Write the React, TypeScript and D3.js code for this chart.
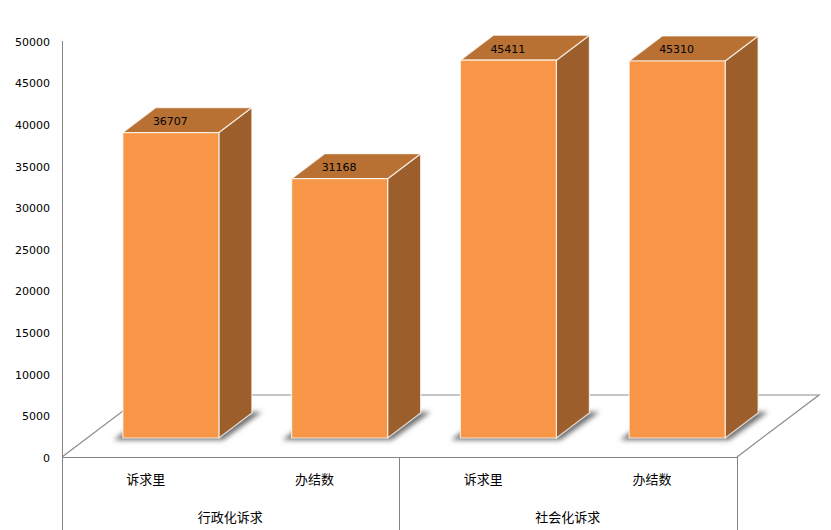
import * as d3 from 'd3';

const categories = ['诉求里', '办结数', '诉求里', '办结数'];
const values = [36707, 31168, 45411, 45310];
const groups = ['行政化诉求', '社会化诉求'];
const yTicks = [0, 5000, 10000, 15000, 20000, 25000, 30000, 35000, 40000, 45000, 50000];

const CJK = '"Noto Sans CJK SC", sans-serif';
const LATIN = '"DejaVu Sans", sans-serif';

const left = 62;
const right = 737;
const floorY = 457;
const topY = 41;
const bottomY = 530;
// floor depth, and where the bars stand on it
const depth = { x: 82, y: -62 };
const barShift = { x: 24.5, y: -19 };
const barDepth = { x: 33, y: -25 };

const yScale = d3.scaleLinear().domain([0, 50000]).range([floorY, topY]);
const labelScale = d3.scaleBand<number>().domain(d3.range(values.length)).range([left, right]);
const groupScale = d3.scaleBand<number>().domain(d3.range(groups.length)).range([left, right]);
const barScale = d3
  .scaleBand<number>()
  .domain(d3.range(values.length))
  .range([left + barShift.x, right + barShift.x])
  .paddingInner(0.431)
  .paddingOuter(0.2155);

const poly = (pts: [number, number][]) => d3.line()(pts) + 'Z';

export default function App() {
  const baseY = floorY + barShift.y;
  const barW = barScale.bandwidth();
  return (
    <svg
      width={831}
      height={530}
      style={{ position: 'absolute', left: 0, top: 0, background: '#fff' }}
    >
      <defs>
        <filter id="soft" x="-30%" y="-30%" width="160%" height="160%">
          <feGaussianBlur stdDeviation="2.8" />
        </filter>
      </defs>

      {/* floor */}
      <path
        d={`M${left},${floorY}L${left + depth.x},${floorY + depth.y}L${right + depth.x},${floorY + depth.y}L${right},${floorY}`}
        fill="none"
        stroke="#8c8c8c"
        strokeWidth={1.2}
      />

      {/* axis frame */}
      <g stroke="#858585" strokeWidth={1} shapeRendering="crispEdges">
        <line x1={left} x2={left} y1={topY} y2={bottomY} />
        <line x1={left} x2={right} y1={floorY} y2={floorY} />
        {d3.range(groups.length + 1).map((i) => {
          const x = left + i * groupScale.step();
          return <line key={i} x1={x} x2={x} y1={floorY} y2={bottomY} />;
        })}
      </g>

      {/* y ticks */}
      <g fontFamily={LATIN} fontSize={11} fill="#000" textAnchor="end">
        {yTicks.map((t) => (
          <text key={t} x={50} y={yScale(t) + 1} dy="0.35em">
            {t}
          </text>
        ))}
      </g>

      {/* bar shadows */}
      {values.map((_, i) => {
        const x0 = barScale(i)!;
        const x1 = x0 + barW;
        return (
          <path
            key={i}
            filter="url(#soft)"
            fill="#6e6e6e"
            d={poly([
              [x0 - 9, baseY + 2],
              [x0 + 4, baseY - 8],
              [x1 + barDepth.x, baseY + barDepth.y - 1],
              [x1 + barDepth.x + 10, baseY + barDepth.y - 1],
              [x1 + 4, baseY + 2],
            ])}
          />
        );
      })}

      {/* bars */}
      {values.map((v, i) => {
        const x0 = barScale(i)!;
        const x1 = x0 + barW;
        const y1 = yScale(v) + barShift.y;
        return (
          <g key={i} stroke="#fff" strokeOpacity={0.75} strokeWidth={1.2} strokeLinejoin="round">
            <path
              fill="#9c5f2c"
              d={poly([
                [x1, y1],
                [x1 + barDepth.x, y1 + barDepth.y],
                [x1 + barDepth.x, baseY + barDepth.y],
                [x1, baseY],
              ])}
            />
            <path
              fill="#b97033"
              d={poly([
                [x0, y1],
                [x0 + barDepth.x, y1 + barDepth.y],
                [x1 + barDepth.x, y1 + barDepth.y],
                [x1, y1],
              ])}
            />
            <rect x={x0} y={y1} width={barW} height={baseY - y1} fill="#f79646" />
          </g>
        );
      })}

      {/* value labels */}
      <g fontFamily={LATIN} fontSize={11} fill="#000" textAnchor="middle">
        {values.map((v, i) => (
          <text
            key={i}
            x={barScale(i)! + barW / 2 - 0.5}
            y={yScale(v) + barShift.y + barDepth.y / 2 + 1}
            dy="0.35em"
          >
            {v}
          </text>
        ))}
      </g>

      {/* category labels */}
      <g fontFamily={CJK} fontSize={13} fill="#000" textAnchor="middle">
        {categories.map((c, i) => (
          <text key={i} x={labelScale(i)! + labelScale.bandwidth() / 2 - 0.5} y={479} dy="0.35em">
            {c}
          </text>
        ))}
        {groups.map((g, i) => (
          <text key={g} x={groupScale(i)! + groupScale.bandwidth() / 2 - 0.5} y={517} dy="0.35em">
            {g}
          </text>
        ))}
      </g>
    </svg>
  );
}
